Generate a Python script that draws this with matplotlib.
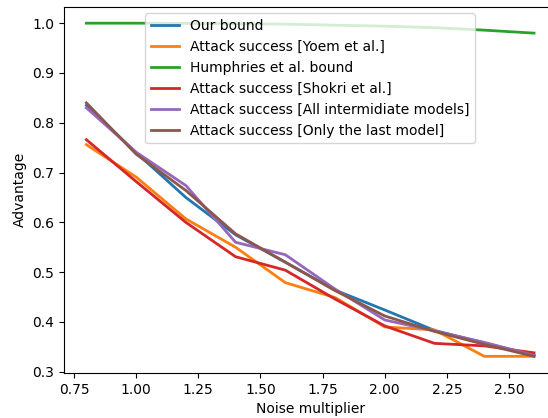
import matplotlib
matplotlib.use("Agg")
import matplotlib.pyplot as plt

# noise multiplier values
noise = [0.8, 1.0, 1.2, 1.4, 1.6, 1.8, 2.0, 2.2, 2.4, 2.6]

# advantage series
our_bound = [0.835, 0.740, 0.650, 0.575, 0.520, 0.464, 0.424, 0.383, 0.358, 0.333]
yoem = [0.756, 0.691, 0.607, 0.550, 0.479, 0.449, 0.390, 0.384, 0.331, 0.331]
humphries = [1.0, 1.0, 0.9995, 0.999, 0.998, 0.996, 0.994, 0.991, 0.986, 0.980]
shokri = [0.766, 0.682, 0.600, 0.531, 0.504, 0.446, 0.392, 0.357, 0.352, 0.338]
all_models = [0.830, 0.741, 0.674, 0.560, 0.535, 0.466, 0.404, 0.382, 0.359, 0.333]
last_model = [0.840, 0.737, 0.664, 0.577, 0.520, 0.463, 0.412, 0.381, 0.355, 0.331]

labels = [
    "Our bound",
    "Attack success [Yoem et al.]",
    "Humphries et al. bound",
    "Attack success [Shokri et al.]",
    "Attack success [All intermidiate models]",
    "Attack success [Only the last model]",
]
series = [our_bound, yoem, humphries, shokri, all_models, last_model]

fig = plt.figure(figsize=(5.48, 4.18), dpi=100)
# axes runs past the right edge, like the cropped original
ax = fig.add_axes([0.1168, 0.1077, 0.8985, 0.8767])

for vals, lab in zip(series, labels):
    ax.plot(noise, vals, label=lab, linewidth=2)

ax.set_xlabel("Noise multiplier")
ax.set_ylabel("Advantage")
ax.legend(loc="upper center")

fig.savefig("out.png", dpi=100)
